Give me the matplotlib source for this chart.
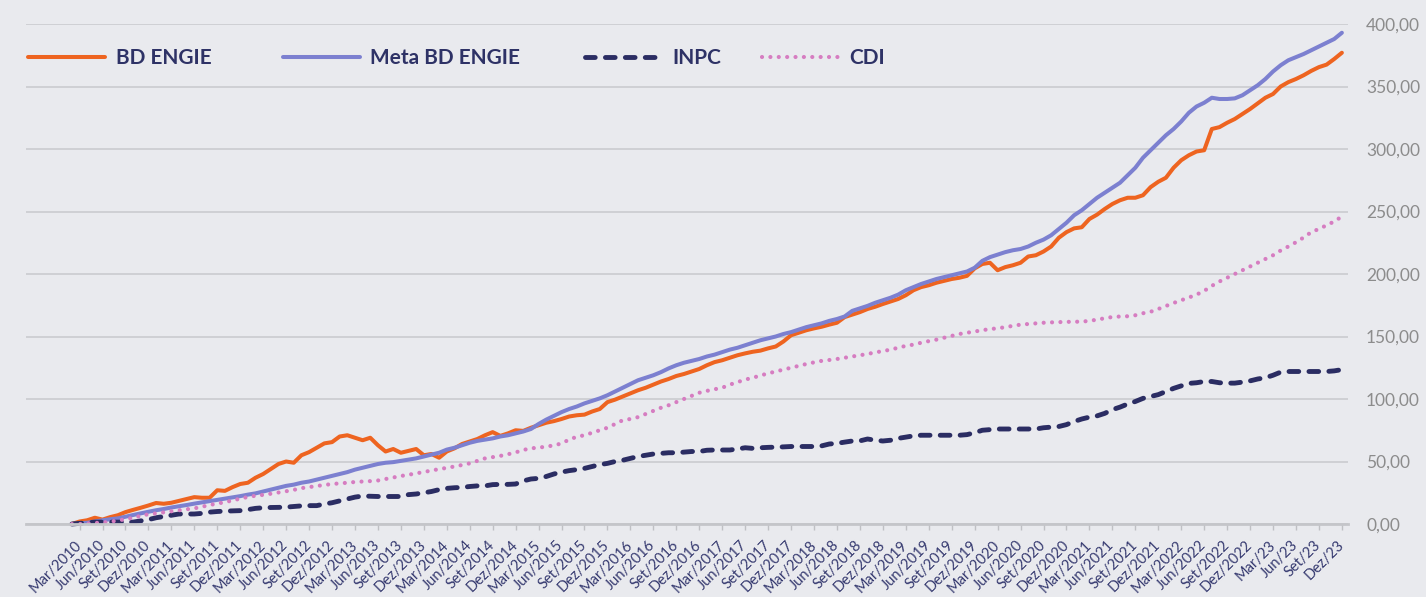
import matplotlib
matplotlib.use('Agg')
import matplotlib.pyplot as plt

plt.rcParams['font.family'] = ['Lato', 'DejaVu Sans']

# monthly values, first point = base (Fev/2010), then Mar/2010 ... Dez/2023
bd_engie = [0, 2, 3, 5, 3.5, 5.5, 7, 9.5, 11.3, 13, 14.8, 16.8, 16.2,
            17, 18.5, 20, 21.5, 21, 21, 27, 26.5, 29.5, 32, 33, 37,
            40, 44, 48, 50, 49, 55, 57.5, 61, 64.5, 65.5, 70, 71,
            69, 67, 69, 63, 58, 60, 57, 58.5, 60, 55, 56, 53,
            58, 60.5, 64, 66, 68, 71, 73.5, 70.5, 72.5, 75, 74.5, 77,
            79, 81, 82.3, 84, 86, 87, 87.5, 90, 92, 97.5, 99.5, 102,
            104.5, 107, 109, 111.5, 114, 116, 118.4, 120, 122, 124, 127, 129.5,
            131, 133, 135, 136.5, 137.8, 138.7, 140.5, 142, 146, 151, 153, 155,
            156.5, 157.8, 159.5, 161, 165.5, 167.5, 169.5, 172, 173.8, 176, 178, 180,
            183, 187, 189.5, 191, 193, 194.5, 196, 197, 198.5, 204.5, 208, 209,
            203, 205.5, 207, 209, 214, 215, 218, 222, 229, 233.5, 236.5, 237.4,
            244, 247.5, 252, 256, 259, 261, 261, 263, 269.5, 273.8, 277, 285,
            291, 295, 298, 299, 316, 317.5, 321, 324, 328, 332, 336.5, 341,
            344, 350, 353.5, 356, 359, 362.5, 365.5, 367.5, 372, 377]

meta_bd_engie = [0, 0.5, 1, 2, 3, 3.8, 4.5, 5.8, 7.2, 8.5, 9.8, 11, 12,
                 13.2, 14.2, 15.2, 16.3, 17.3, 18.3, 19.3, 20.3, 21.3, 22.3, 23.5, 24.5,
                 26, 27.5, 29, 30.5, 31.5, 33, 34, 35.5, 37, 38.5, 40, 41.5,
                 43.5, 45, 46.5, 48, 49, 49.5, 50.5, 51.5, 52.5, 54, 55.5, 57,
                 59.5, 61, 63, 65, 66.5, 67.5, 68.5, 70, 71, 72.5, 74, 76,
                 80, 83.5, 86.5, 89.5, 92, 94, 96.5, 98.5, 100.5, 103, 106, 109,
                 112, 115, 117, 119, 121.5, 124.5, 127, 129, 130.5, 132, 134, 135.5,
                 137.5, 139.5, 141, 143, 145, 147, 148.5, 150, 152, 153.5, 155.5, 157.5,
                 159, 160.5, 162.5, 164, 166, 170.5, 172.5, 174.5, 177, 179, 181, 183.5,
                 187, 189.5, 192, 194, 196, 197.5, 199, 200.5, 202, 205, 210.5, 213.5,
                 215.5, 217.5, 219, 220, 222, 225, 227.5, 231, 236, 241, 247, 251,
                 256, 261, 265, 269, 273, 279, 285, 293, 299, 305, 311, 316,
                 322, 329, 334, 337, 341, 340, 340, 340.5, 343, 347, 351, 356,
                 362, 367, 371, 373.5, 376, 379, 382, 385, 388, 393]

inpc = [0, 0.5, 1, 1.5, 1.5, 1.5, 1.5, 1.5, 1.5, 2.5, 3.5, 5, 6,
        7, 8, 8, 8, 8.5, 9.5, 10, 10.3, 10.5, 10.7, 11.5, 12.5,
        13, 13.2, 13.3, 13.5, 14, 14.5, 14.7, 14.7, 16, 17, 18.5, 20,
        21.5, 22.4, 22.2, 22, 22, 22, 22, 23.5, 24, 25, 26, 27.5,
        28.5, 29, 29.3, 30, 30.5, 30.5, 31.5, 31.7, 31.7, 32, 34.5, 36,
        36.5, 38, 40, 41.5, 42.7, 43.5, 44.5, 46, 47.5, 48.5, 50, 51,
        52.5, 54, 55, 56, 56.5, 57, 57, 57.5, 58, 58, 59, 59.2,
        59.2, 59.2, 60, 61, 60.5, 61, 61.3, 61.5, 61.7, 62, 62, 62,
        62, 62.5, 64, 64.5, 65.5, 66.4, 66.5, 68, 67, 66.4, 67, 68.5,
        69.5, 70.5, 71, 71, 71, 71, 71, 71, 71.5, 73, 75, 75.5,
        76, 76, 76, 76, 76, 76, 77, 77.5, 78, 79.5, 82, 84,
        85.5, 86.5, 88.5, 91.5, 93.5, 96, 98, 100.5, 102, 103.5, 106, 108.5,
        110.5, 112.5, 113, 114, 114, 113, 112.7, 112.7, 113.5, 114.5, 116, 117,
        119, 121.5, 122, 122, 122, 122, 122, 122, 122.5, 123.5]

cdi = [0, 0, 0.4, 0.8, 1.2, 1.8, 2.8, 3.8, 5, 6.5, 7.8, 8.5, 9.3,
       10.2, 11, 11.8, 12.5, 13.8, 15.2, 16.3, 17.5, 18.8, 20.3, 21.6, 22.6,
       23.3, 24.2, 25.2, 26.2, 27.3, 28.7, 29.5, 30.4, 31.2, 32, 32.5, 33,
       33.6, 34, 34.3, 34.8, 36, 37.2, 38.4, 39.4, 40.5, 41.6, 42.8, 43.9,
       44.9, 46, 47.2, 48.5, 50.5, 52.5, 53.5, 54.5, 55.8, 57.3, 59.2, 60.6,
       61, 62, 62.8, 64.5, 67.5, 69.8, 71, 73, 75, 77, 80, 83,
       84, 85.5, 88, 90.5, 93, 95, 97.5, 100, 102.5, 105, 106.5, 107.8,
       109, 111.5, 113.5, 115.5, 117, 118.8, 120.5, 122, 123.5, 125, 126.5, 128,
       129.3, 130.5, 131.2, 132, 133, 134, 135, 136, 137.3, 138.3, 139.5, 141,
       142.5, 143.5, 145, 146.3, 147.5, 149, 150.5, 152, 153, 154, 155, 156,
       156.5, 157.5, 158.5, 159.5, 160, 160.5, 161, 161.3, 161.5, 161.7, 161.8, 161.9,
       162.5, 163.5, 164.6, 165.6, 166, 166.2, 167, 168.6, 169.8, 172, 174.4, 176.8,
       179, 181.2, 183.5, 186.5, 190.5, 194, 197, 200, 203, 206, 209, 212,
       215, 218.8, 222, 225.4, 229.2, 233.5, 236, 239, 242, 246]

tick_labels = [
    'Mar/2010', 'Jun/2010', 'Set/2010', 'Dez/2010', 'Mar/2011', 'Jun/2011', 'Set/2011', 'Dez/2011',
    'Mar/2012', 'Jun/2012', 'Set/2012', 'Dez/2012', 'Mar/2013', 'Jun/2013', 'Set/2013', 'Dez/2013',
    'Mar/2014', 'Jun/2014', 'Set/2014', 'Dez/2014', 'Mar/2015', 'Jun/2015', 'Set/2015', 'Dez/2015',
    'Mar/2016', 'Jun/2016', 'Set/2016', 'Dez/2016', 'Mar/2017', 'Jun/2017', 'Set/2017', 'Dez/2017',
    'Mar/2018', 'Jun/2018', 'Set/2018', 'Dez/2018', 'Mar/2019', 'Jun/2019', 'Set/2019', 'Dez/2019',
    'Mar/2020', 'Jun/2020', 'Set/2020', 'Dez/2020', 'Mar/2021', 'Jun/2021', 'Set/2021', 'Dez/2021',
    'Mar/2022', 'Jun/2022', 'Set/2022', 'Dez/2022', 'Mar/23', 'Jun/23', 'Set/23', 'Dez/23']

series_names = ['BD ENGIE', 'Meta BD ENGIE', 'INPC', 'CDI']

W, H = 1426, 597
fig = plt.figure(figsize=(W / 100, H / 100), dpi=100, facecolor='#e9eaee')
ax = fig.add_axes([26 / W, 1 - 524 / H, (1348 - 26) / W, 500 / H])
ax.set_facecolor('#e9eaee')

l1, = ax.plot(range(len(bd_engie)), bd_engie, color='#ee6420', lw=2.9,
              solid_capstyle='round', clip_on=False)
l2, = ax.plot(range(len(meta_bd_engie)), meta_bd_engie, color='#7c80d0', lw=2.9,
              solid_capstyle='round', clip_on=False)
l3, = ax.plot(range(len(inpc)), inpc, color='#2b2d63', lw=3.5,
              dashes=(2.0, 2.1), dash_capstyle='round', clip_on=False)
l4, = ax.plot(range(len(cdi)), cdi, color='#d67dc1', lw=3.0,
              dashes=(0.01, 2.0), dash_capstyle='round', clip_on=False)

ax.set_xlim(-6.0, 166.8)
ax.set_ylim(0, 400)

ax.set_xticks(range(1, 1 + 3 * len(tick_labels), 3))
ax.set_xticklabels(tick_labels)
ax.tick_params(axis='x', length=4.5, width=1, color='#bfc0c4', pad=9,
               labelsize=10.5, labelcolor='#363a70')
for lbl in ax.get_xticklabels():
    lbl.set_rotation(45)
    lbl.set_ha('right')
    lbl.set_va('center')
    lbl.set_rotation_mode('anchor')

ax.yaxis.tick_right()
ax.set_yticks(range(0, 401, 50))
ax.set_yticklabels([f'{v:.2f}'.replace('.', ',') for v in range(0, 401, 50)])
ax.tick_params(axis='y', length=0, pad=13, labelsize=12.5, labelcolor='#8c8c8c')

ax.grid(axis='y', color='#cdced2', lw=1.3)
ax.set_axisbelow(True)
for s in ['top', 'left', 'right']:
    ax.spines[s].set_visible(False)
ax.spines['bottom'].set_color('#c4c5c9')
ax.spines['bottom'].set_linewidth(2)

# legend entries placed one by one like the original
legend_x = [28, 283, 585, 762]
for line, name, x0 in zip([l1, l2, l3, l4], series_names, legend_x):
    fig.legend(handles=[line], labels=[name], loc='center left',
               bbox_to_anchor=(x0 / W, 1 - 58 / H), frameon=False,
               handlelength=3.7, handletextpad=0.5, borderpad=0, borderaxespad=0,
               prop=dict(family='Lato', weight='bold', size=15), labelcolor='#2e3266')

fig.savefig('out.png', dpi=100, facecolor=fig.get_facecolor())
